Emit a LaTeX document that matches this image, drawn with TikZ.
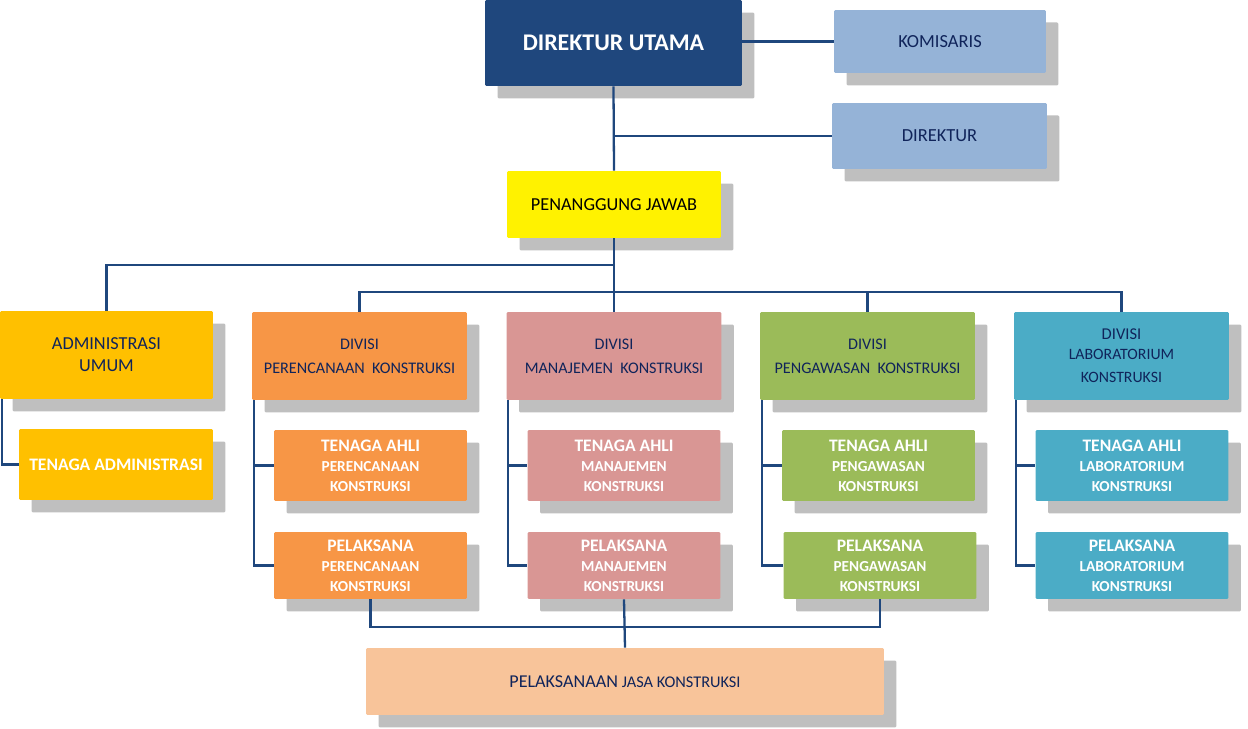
\documentclass[tikz,border=0pt]{standalone}
\usepackage{fontspec}
\setmainfont{Carlito}
\usetikzlibrary{shadows}
\definecolor{dublue}{RGB}{31,71,125}
\definecolor{komblue}{RGB}{149,179,215}
\definecolor{navy}{RGB}{16,36,90}
\definecolor{admyellow}{RGB}{255,192,0}
\definecolor{renorange}{RGB}{247,150,70}
\definecolor{manpink}{RGB}{217,150,148}
\definecolor{awsgreen}{RGB}{155,187,89}
\definecolor{labcyan}{RGB}{75,172,198}
\definecolor{jasapeach}{RGB}{248,196,154}
\definecolor{shadowgray}{RGB}{191,191,191}
\newcommand{\bighead}[1]{{\fontsize{10}{11.3}\selectfont #1}}
\begin{document}
\begin{tikzpicture}[x=0.02cm, y=-0.02cm]
	\tikzset{box/.style={rectangle, rounded corners=0.8pt, inner sep=1pt, align=center,
		drop shadow={shadow xshift=0.25cm, shadow yshift=-0.25cm, fill=shadowgray, opacity=1}}}
	\tikzset{divbox/.style={box, minimum width=4.3cm, minimum height=1.76cm, text=navy,
		font=\fontsize{9.2}{13.6}\selectfont}}
	\tikzset{subbox/.style={box, minimum width=3.86cm, minimum height=1.42cm, text=white,
		font=\bfseries\fontsize{8.7}{11.3}\selectfont}}
	\tikzset{plbox/.style={subbox, minimum height=1.34cm}}
	\tikzset{link/.style={draw=dublue, line width=1.3pt}}
	\useasboundingbox (0,0) rectangle (1248,729);

	% top
	\node[box, fill=dublue, text=white, minimum width=5.14cm, minimum height=1.72cm,
		font=\bfseries\fontsize{13.6}{16}\selectfont] (du) at (613.5,43) {DIREKTUR UTAMA};
	\node[box, fill=komblue, text=navy, minimum width=4.24cm, minimum height=1.26cm,
		font=\fontsize{10.5}{12}\selectfont] (kom) at (940,41.5) {KOMISARIS};
	\node[box, fill=komblue, text=navy, minimum width=4.3cm, minimum height=1.32cm,
		font=\fontsize{10.5}{12}\selectfont] (dir) at (939.5,136) {DIREKTUR};
	\node[box, fill=yellow, text=black, minimum width=4.28cm, minimum height=1.34cm,
		font=\fontsize{10.4}{12}\selectfont] (pj) at (614,204.5) {PENANGGUNG JAWAB};

	% administrasi
	\node[divbox, fill=admyellow, minimum width=4.26cm, font=\fontsize{10.4}{12.5}\selectfont]
		(adm) at (106.5,355) {ADMINISTRASI\\UMUM};
	\node[subbox, fill=admyellow, minimum width=3.88cm, font=\bfseries\fontsize{10}{12}\selectfont]
		(taadm) at (116,464.5) {TENAGA ADMINISTRASI};

	% divisi
	\node[divbox, fill=renorange] (dpk) at (359.5,356) {DIVISI\\PERENCANAAN \ KONSTRUKSI};
	\node[divbox, fill=manpink]   (dmk) at (614,356)   {DIVISI\\MANAJEMEN \ KONSTRUKSI};
	\node[divbox, fill=awsgreen]  (dwk) at (867.5,356) {DIVISI\\PENGAWASAN \ KONSTRUKSI};
	\node[divbox, fill=labcyan, font=\fontsize{9}{11.5}\selectfont]
		(dlk) at (1121.5,356) {\fontsize{9.4}{11.5}\selectfont DIVISI\\LABORATORIUM\\[1.5pt]KONSTRUKSI};

	% tenaga ahli
	\node[subbox, fill=renorange] (tapk) at (370.5,465.5)  {\bighead{TENAGA AHLI}\\PERENCANAAN\\KONSTRUKSI};
	\node[subbox, fill=manpink]   (tamk) at (624,465.5)    {\bighead{TENAGA AHLI}\\MANAJEMEN\\KONSTRUKSI};
	\node[subbox, fill=awsgreen]  (tawk) at (878.5,465.5)  {\bighead{TENAGA AHLI}\\PENGAWASAN\\KONSTRUKSI};
	\node[subbox, fill=labcyan]   (talk) at (1132,465.5)   {\bighead{TENAGA AHLI}\\LABORATORIUM\\KONSTRUKSI};

	% pelaksana
	\node[plbox, fill=renorange] (plpk) at (370.5,565.5) {\bighead{PELAKSANA}\\PERENCANAAN\\KONSTRUKSI};
	\node[plbox, fill=manpink]   (plmk) at (624,565.5)   {\bighead{PELAKSANA}\\MANAJEMEN\\KONSTRUKSI};
	\node[plbox, fill=awsgreen]  (plwk) at (880,565.5)   {\bighead{PELAKSANA}\\PENGAWASAN\\KONSTRUKSI};
	\node[plbox, fill=labcyan]   (pllk) at (1132,565.5)  {\bighead{PELAKSANA}\\LABORATORIUM\\KONSTRUKSI};

	% bottom
	\node[box, fill=jasapeach, text=navy, minimum width=10.36cm, minimum height=1.34cm]
		(jasa) at (625,681.5) {{\fontsize{10.3}{12}\selectfont PELAKSANAAN} {\fontsize{9.3}{12}\selectfont JASA KONSTRUKSI}};

	\coordinate (busadm) at (614,265);
	\coordinate (busdiv) at (614,292);
	\coordinate (busbot) at (624,627);

	\draw[link] (kom.west -| du.east) -- (kom.west);
	\draw[link] (du.south) -- (pj.north);
	\draw[link] (du.south |- dir.west) -- (dir.west);
	\draw[link] (pj.south) -- (busdiv);
	\draw[link] (adm.north) |- (busadm);
	\draw[link] (dmk.north) -- (busdiv);
	\draw[link] (plmk.south) -- (jasa.north);
	\draw[link] (dpk.north) |- (busdiv) -| (dlk.north);
	\draw[link] (dwk.north) -- (dwk.north |- busdiv);
	\draw[link] (plpk.south) |- (busbot) -| (plwk.south);

	% rails
	\draw[link] ([xshift=0.04cm]adm.south west) |- (taadm.west);
	\foreach \d/\t/\p in {dpk/tapk/plpk, dmk/tamk/plmk, dwk/tawk/plwk, dlk/talk/pllk} {
		\draw[link] ([xshift=0.04cm]\d.south west) |- (\p.west);
		\draw[link] ([xshift=0.04cm]\d.south west |- \t.west) -- (\t.west);
	}
\end{tikzpicture}
\end{document}
